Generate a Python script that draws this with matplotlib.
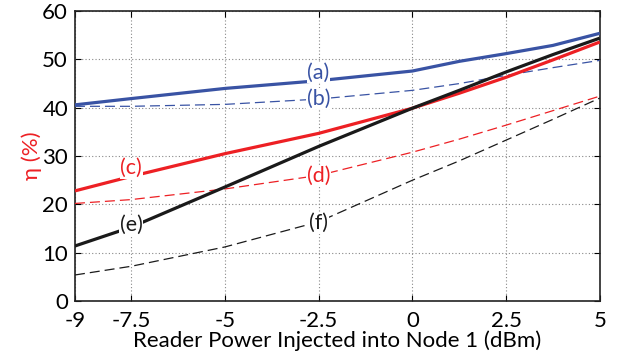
import matplotlib
matplotlib.use("Agg")
import matplotlib.pyplot as plt

plt.rcParams['font.family'] = ['Lato', 'DejaVu Sans']

# Reader power (dBm) and efficiency curves (%)
power = [-9, -7.5, -5, -2.5, 0, 1.25, 2.5, 3.75, 5]
eff_a = [40.6, 41.9, 44.0, 45.6, 47.6, 49.6, 51.2, 52.9, 55.4]
eff_b = [40.3, 40.3, 40.7, 41.8, 43.6, 45.0, 46.7, 48.3, 49.8]
eff_c = [22.8, 25.8, 30.5, 34.7, 39.9, 43.0, 46.3, 49.9, 53.6]
eff_d = [20.2, 21.0, 23.2, 26.0, 30.8, 33.5, 36.4, 39.4, 42.4]
eff_e = [11.4, 15.3, 23.6, 32.0, 39.9, 43.6, 47.4, 51.0, 54.4]
eff_f = [5.4, 7.2, 11.2, 16.4, 25.0, 29.0, 33.3, 37.6, 42.0]

xticks = [-9, -7.5, -5, -2.5, 0, 2.5, 5]
xtick_labels = ['-9', '-7.5', '-5', '-2.5', '0', '2.5', '5']
yticks = [0, 10, 20, 30, 40, 50, 60]

curve_labels = ['(a)', '(b)', '(c)', '(d)', '(e)', '(f)']
label_pos = [(-2.5, 47.3), (-2.5, 41.9), (-7.5, 27.5), (-2.5, 26.0), (-7.5, 15.7), (-2.5, 16.1)]

blue = '#3953a4'
red = '#ed2024'
black = '#1a1a1a'

fig = plt.figure(figsize=(6.3, 3.58), dpi=100)
ax = fig.add_axes([0.119, 0.159, 0.833, 0.810])

ax.plot(power, eff_a, color=blue, lw=2.3, solid_capstyle='butt', zorder=3)
ax.plot(power, eff_b, color=blue, lw=0.9, ls=(0, (8, 4)), zorder=3)
ax.plot(power, eff_c, color=red, lw=2.3, solid_capstyle='butt', zorder=3)
ax.plot(power, eff_d, color=red, lw=0.9, ls=(0, (8, 4)), zorder=3)
ax.plot(power, eff_e, color=black, lw=2.3, solid_capstyle='butt', zorder=3)
ax.plot(power, eff_f, color=black, lw=0.9, ls=(0, (8, 4)), zorder=3)

colors = [blue, blue, red, red, black, black]
for txt, (lx, ly), c in zip(curve_labels, label_pos, colors):
    ax.text(lx, ly, txt, color=c, fontsize=15.5, ha='center', va='center', zorder=5,
            bbox=dict(facecolor='white', edgecolor='none', pad=0.5))

ax.set_xlim(-9, 5)
ax.set_ylim(0, 60)
ax.set_xticks(xticks)
ax.set_xticklabels(xtick_labels)
ax.set_yticks(yticks)
ax.tick_params(direction='in', length=4, width=0.8, labelsize=16, top=True, right=True,
               colors='black')
ax.tick_params(axis='x', pad=7)
ax.tick_params(axis='y', pad=5)
ax.grid(True, color='#888888', ls=(0, (1, 2)), lw=0.8)
ax.set_axisbelow(True)
for s in ax.spines.values():
    s.set_linewidth(1.2)
    s.set_color('#222222')

ax.set_xlabel('Reader Power Injected into Node 1 (dBm)', fontsize=16, labelpad=0)
ax.set_ylabel('η (%)', fontsize=16, color=red, labelpad=0)

fig.savefig('out.png', dpi=100)
